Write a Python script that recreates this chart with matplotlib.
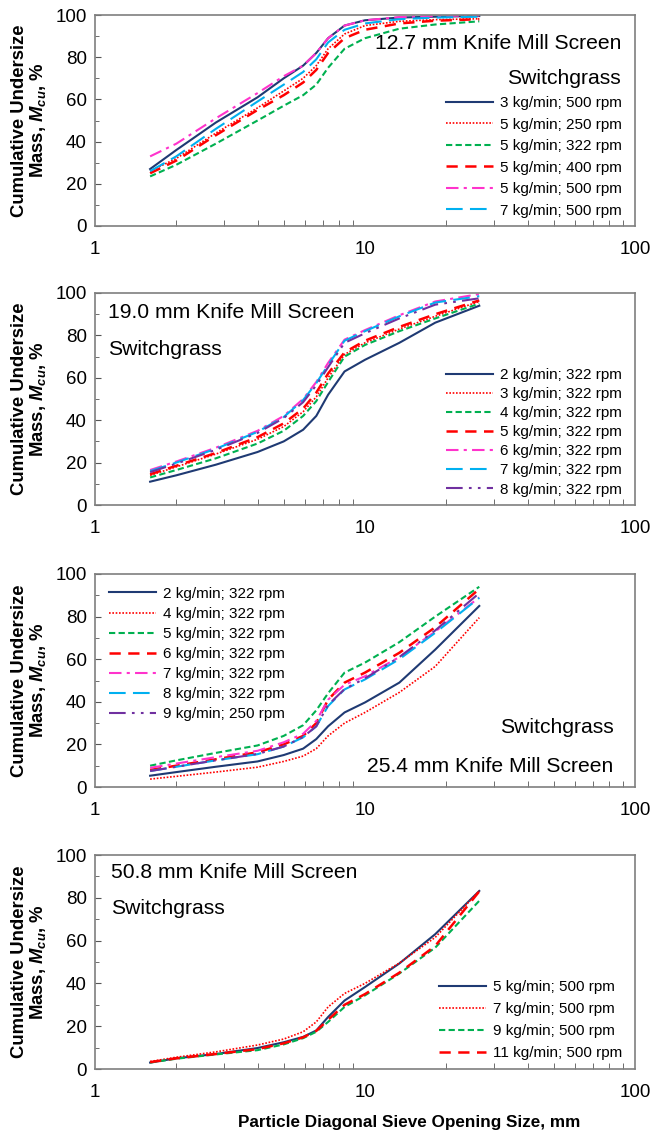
import matplotlib
matplotlib.use("Agg")
import matplotlib.pyplot as plt
from matplotlib.ticker import MultipleLocator, FixedLocator, FixedFormatter, NullFormatter

plt.rcParams['font.family'] = ['Liberation Sans', 'DejaVu Sans']
plt.rcParams['mathtext.fontset'] = 'custom'
plt.rcParams['mathtext.it'] = 'Liberation Sans:italic:bold'
plt.rcParams['mathtext.rm'] = 'Liberation Sans:bold'

# sieve opening sizes (mm), shared by all panels
sizes = [1.6, 2.0, 2.8, 4.0, 5.0, 5.9, 6.6, 7.3, 8.4, 10.0, 13.4, 18.2, 26.5]

# 12.7 mm screen
labels_127 = ["3 kg/min; 500 rpm", "5 kg/min; 250 rpm", "5 kg/min; 322 rpm",
              "5 kg/min; 400 rpm", "5 kg/min; 500 rpm", "7 kg/min; 500 rpm"]
vals_127 = [
    [27, 36, 49, 61, 70, 76, 82, 89, 95, 97.5, 98.8, 99.2, 99.5],
    [26, 32, 44, 56, 64, 70, 76, 84, 91, 95, 97, 97.8, 98.2],
    [23.5, 29, 39, 50, 57, 62, 67, 75, 84, 89, 93.5, 95.5, 97],
    [25, 31, 43, 55, 62, 68, 74, 82, 89, 93, 96, 97.3, 98],
    [33, 39, 51, 63, 71, 76, 82, 89, 95, 97.5, 99, 99.5, 99.8],
    [26, 33, 46, 59, 67, 73, 79, 87, 93, 96, 98, 98.8, 99.2],
]

# 19.0 mm screen
labels_190 = ["2 kg/min; 322 rpm", "3 kg/min; 322 rpm", "4 kg/min; 322 rpm",
              "5 kg/min; 322 rpm", "6 kg/min; 322 rpm", "7 kg/min; 322 rpm",
              "8 kg/min; 322 rpm"]
vals_190 = [
    [11, 14, 19, 25, 30, 35.5, 42, 52, 63, 68.5, 76.5, 86, 94],
    [14, 18, 24, 31, 37, 44, 51, 60, 71, 76.5, 83, 89, 96],
    [13, 16.5, 22, 29, 35, 42, 49, 58, 70, 75.5, 82, 88, 95],
    [14.5, 18.5, 24.5, 32, 38.5, 45.5, 53, 62, 72, 77.5, 84, 90, 96.5],
    [16.5, 20.5, 27, 35, 42, 50, 58, 67, 78, 82.5, 89.5, 96, 99.5],
    [16, 20, 26.5, 34.5, 41.5, 49.5, 57.5, 66, 77.5, 82, 89, 95.5, 98.5],
    [15.5, 19.5, 26, 34, 41, 48.5, 56.5, 65, 76.5, 81, 88, 94.5, 97.5],
]

# 25.4 mm screen
labels_254 = ["2 kg/min; 322 rpm", "4 kg/min; 322 rpm", "5 kg/min; 322 rpm",
              "6 kg/min; 322 rpm", "7 kg/min; 322 rpm", "8 kg/min; 322 rpm",
              "9 kg/min; 250 rpm"]
vals_254 = [
    [5.3, 7, 9.5, 12, 15, 18, 22.5, 28.5, 35, 39.7, 49, 64.5, 85],
    [3.7, 5, 7, 9.3, 12, 14.5, 18, 24, 30, 35, 44.4, 56.6, 79.5],
    [10, 12.5, 16, 19.5, 24, 29, 36, 44, 53.7, 58.4, 68, 80, 94],
    [8, 10, 13, 16.3, 20, 24, 30, 41, 49, 53.7, 63, 75, 93],
    [9, 11, 14, 17, 21, 25, 31, 41, 48, 52, 61, 73, 89],
    [7.5, 9.5, 12.5, 15.4, 19, 23.3, 28.5, 38, 45.8, 50.5, 60, 72.4, 88.8],
    [7.5, 9.5, 12.5, 15.5, 19, 23.5, 28.5, 38.5, 46, 51, 61, 73.5, 91],
]

# 50.8 mm screen
labels_508 = ["5 kg/min; 500 rpm", "7 kg/min; 500 rpm", "9 kg/min; 500 rpm",
              "11 kg/min; 500 rpm"]
vals_508 = [
    [3, 5, 7, 9.8, 12.5, 15, 18, 24.3, 32, 38.3, 49.3, 63, 83.2],
    [3.5, 5.5, 8, 11.2, 14, 17.4, 22, 29, 35.3, 40, 49.5, 61.5, 83.2],
    [3, 4.8, 6.8, 8.8, 11.5, 14.4, 17.4, 22, 29, 34.4, 44.6, 56.7, 78.6],
    [3.2, 5, 7, 9.3, 12, 14.8, 17.8, 23, 30, 35, 45, 57.5, 83],
]

navy = dict(color="#1F3A73", ls="-", lw=1.5)
rdot = dict(color="#FF0000", ls=(0, (1, 1)), lw=1.2)
gdash = dict(color="#00B050", ls=(0, (3, 1.6)), lw=1.5)
rdash = dict(color="#FF0000", ls=(0, (4.5, 3)), lw=1.8)
magdd = dict(color="#FF33CC", ls=(0, (6, 2.5, 1.5, 2.5)), lw=1.5)
cyan = dict(color="#00B0F0", ls=(0, (8, 3.5)), lw=1.5)
purp = dict(color="#7030A0", ls=(0, (8, 3, 1.3, 3, 1.3, 3)), lw=1.5)

styles_127 = [navy, rdot, gdash, rdash, magdd, cyan]
styles_190 = [navy, rdot, gdash, rdash, magdd, cyan, purp]
styles_254 = [navy, rdot, gdash, rdash, magdd, cyan, purp]
styles_508 = [navy, rdot, gdash, rdash]

fig = plt.figure(figsize=(6.56, 11.31), dpi=100)
FW, FH = 656, 1131
left, right = 95, 635
tops = [15, 293, 574, 855]
bots = [226, 505, 787, 1069]

panels = [
    (labels_127, vals_127, styles_127),
    (labels_190, vals_190, styles_190),
    (labels_254, vals_254, styles_254),
    (labels_508, vals_508, styles_508),
]

axes = []
for t, b, (labs, vals, stys) in zip(tops, bots, panels):
    ax = fig.add_axes([left / FW, (FH - b) / FH, (right - left) / FW, (b - t) / FH])
    for lab, v, st in zip(labs, vals, stys):
        ax.plot(sizes, v, label=lab, **st)
    ax.set_xscale("log")
    ax.set_xlim(1, 100)
    ax.set_ylim(0, 100)
    ax.yaxis.set_major_locator(MultipleLocator(20))
    ax.yaxis.set_minor_locator(MultipleLocator(10))
    ax.xaxis.set_major_locator(FixedLocator([1, 10, 100]))
    ax.xaxis.set_major_formatter(FixedFormatter(["1", "10", "100"]))
    ax.xaxis.set_minor_formatter(NullFormatter())
    ax.tick_params(which="both", direction="in", color="#555555", labelsize=13.5)
    ax.tick_params(axis="x", which="major", length=0, pad=11)
    ax.tick_params(axis="x", which="minor", length=4)
    ax.tick_params(axis="y", which="major", length=4, pad=6)
    ax.tick_params(axis="y", which="minor", length=3)
    for sp in ax.spines.values():
        sp.set_color("#7F7F7F")
        sp.set_linewidth(1.2)
    ax.set_ylabel("Cumulative Undersize\nMass, $M_{cu}$, %", fontsize=13.3,
                  fontweight="bold", labelpad=5, linespacing=1.05)
    axes.append(ax)

leg_kw = dict(frameon=False, fontsize=11, handlelength=3.1, handletextpad=0.45,
              borderaxespad=0.0, borderpad=0.0)
axes[0].legend(loc="lower right", bbox_to_anchor=(0.976, 0.04), labelspacing=0.49, **leg_kw)
axes[1].legend(loc="lower right", bbox_to_anchor=(0.976, 0.04), labelspacing=0.33, **leg_kw)
axes[2].legend(loc="upper left", bbox_to_anchor=(0.025, 0.94), labelspacing=0.4, **leg_kw)
axes[3].legend(loc="lower right", bbox_to_anchor=(0.976, 0.04), labelspacing=0.53, **leg_kw)

fs = 15.2
axes[0].text(0.974, 0.865, "12.7 mm Knife Mill Screen", ha="right", va="center",
             fontsize=fs, transform=axes[0].transAxes)
axes[0].text(0.974, 0.70, "Switchgrass", ha="right", va="center",
             fontsize=fs, transform=axes[0].transAxes)
axes[1].text(0.025, 0.91, "19.0 mm Knife Mill Screen", ha="left", va="center",
             fontsize=fs, transform=axes[1].transAxes)
axes[1].text(0.025, 0.735, "Switchgrass", ha="left", va="center",
             fontsize=fs, transform=axes[1].transAxes)
axes[2].text(0.96, 0.28, "Switchgrass", ha="right", va="center",
             fontsize=fs, transform=axes[2].transAxes)
axes[2].text(0.96, 0.098, "25.4 mm Knife Mill Screen", ha="right", va="center",
             fontsize=fs, transform=axes[2].transAxes)
axes[3].text(0.03, 0.916, "50.8 mm Knife Mill Screen", ha="left", va="center",
             fontsize=fs, transform=axes[3].transAxes)
axes[3].text(0.03, 0.75, "Switchgrass", ha="left", va="center",
             fontsize=fs, transform=axes[3].transAxes)

fig.text(409 / FW, 1 - 1122 / FH, "Particle Diagonal Sieve Opening Size, mm",
         ha="center", va="center", fontsize=12.3, fontweight="bold")

fig.savefig("out.png", dpi=100)
